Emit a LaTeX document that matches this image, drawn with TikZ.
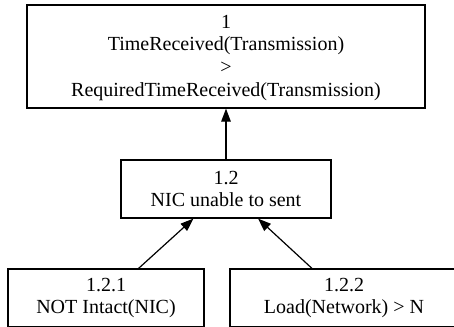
\documentclass[tikz,border=0pt]{standalone}
\usepackage{fontspec}
\setmainfont{Liberation Serif}
\usetikzlibrary{arrows.meta}
\begin{document}
\begin{tikzpicture}[x=1pt,y=-1pt,
  box/.style={draw,line width=1.2pt,inner sep=0pt,align=center,
    font=\fontsize{20}{22.6}\selectfont},
  edge/.style={line width=1.2pt,-{Triangle[length=13pt,width=9.5pt]}}]
\useasboundingbox (0,0) rectangle (454,326);
\node[box,minimum width=398pt,minimum height=103pt] (top) at (226,56.5)
  {\strut 1\\TimeReceived(Transmission)\\>\\RequiredTimeReceived(Transmission)};
\node[box,minimum width=210pt,minimum height=58pt] (mid) at (226,189)
  {1.2\\NIC unable to sent};
\node[box,minimum width=196pt,minimum height=58pt] (b1) at (106,298)
  {1.2.1\\NOT Intact(NIC)};
\node[box,minimum width=228pt,minimum height=58pt] (b2) at (344,298)
  {1.2.2\\Load(Network) > N};
\draw[edge] (mid) -- (top);
\draw[edge] (b1) -- (mid);
\draw[edge] (b2) -- (mid);
\end{tikzpicture}
\end{document}
